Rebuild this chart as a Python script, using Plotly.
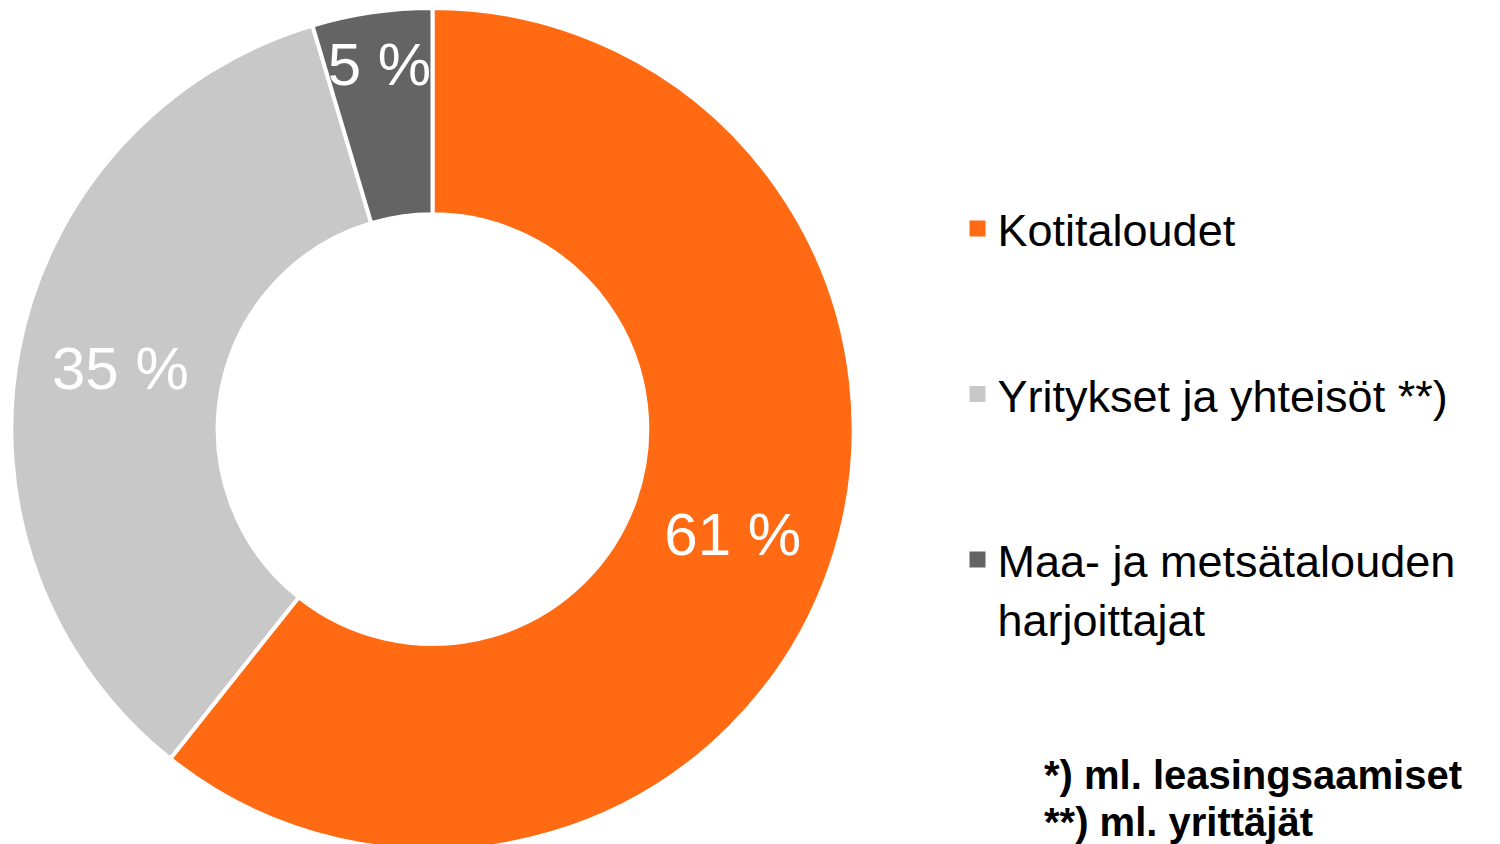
import plotly.graph_objects as go

categories = ["Kotitaloudet", "Yritykset ja yhteisöt **)", "Maa- ja metsätalouden<br>harjoittajat"]
values = [60.7, 34.7, 4.6]
colors = ["#FF6A13", "#C8C8C8", "#646464"]
footnotes = ["*) ml. leasingsaamiset", "**) ml. yrittäjät"]

FONT = "Liberation Sans, Arial, sans-serif"
slice_text = [f"{round(v)} %" for v in values]

fig = go.Figure()
fig.add_trace(go.Pie(
    labels=categories,
    values=values,
    text=slice_text,
    texttemplate="%{text}",
    textposition="inside",
    insidetextorientation="horizontal",
    textfont=dict(family=FONT, size=60, color="white"),
    marker=dict(colors=colors, line=dict(color="white", width=4)),
    hole=0.51,
    sort=False,
    direction="clockwise",
    rotation=0,
    domain=dict(x=[0, 0.566], y=[0.002, 1]),
    hoverinfo="label+percent",
    showlegend=False,
))

# legend entries (square swatches) for the categories
for i, (name, col) in enumerate(zip(categories, colors)):
    fig.add_trace(go.Scatter(
        x=[None], y=[None], mode="markers",
        marker=dict(symbol="square", size=16, color=col),
        name=name, legendgroup=f"g{i}", showlegend=True, hoverinfo="skip",
    ))

fig.update_layout(
    width=1500, height=844,
    margin=dict(l=0, r=0, t=0, b=0),
    paper_bgcolor="white",
    plot_bgcolor="white",
    uniformtext=dict(minsize=60, mode="show"),
    xaxis=dict(visible=False, domain=[0.99, 1]),
    yaxis=dict(visible=False, domain=[0.99, 1]),
    legend=dict(
        x=0.633, y=0.781, xanchor="left", yanchor="top",
        font=dict(family=FONT, size=45, color="black"),
        valign="top",
        tracegroupgap=104,
        bgcolor="rgba(0,0,0,0)",
    ),
    font=dict(family=FONT),
)

for i, note in enumerate(footnotes):
    fig.add_annotation(
        text=note, xref="paper", yref="paper",
        x=0.689, y=0.091 - i * 0.055, xanchor="left", yanchor="middle",
        showarrow=False, align="left",
        font=dict(family=FONT, size=40, color="black", weight="bold"),
    )

fig.write_html("out.html")
